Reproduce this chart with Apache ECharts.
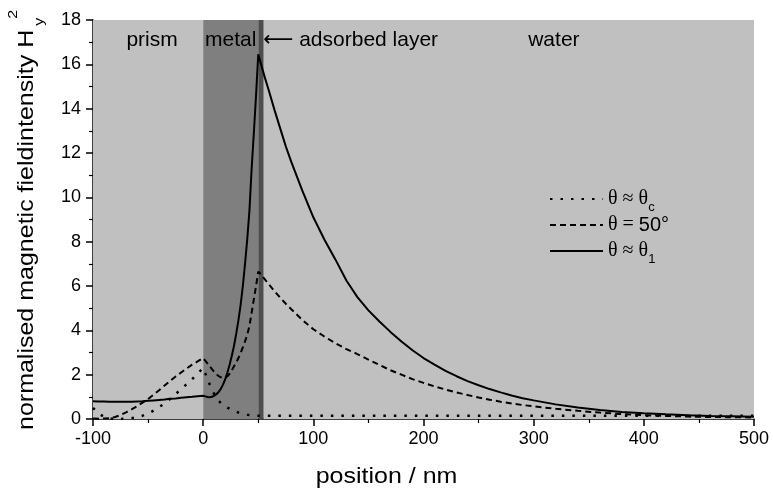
<!DOCTYPE html>
<html><head><meta charset="utf-8">
<script src="https://cdn.jsdelivr.net/npm/echarts@6/dist/echarts.min.js"></script>
<style>html,body{margin:0;padding:0;background:#fff}#c{width:773px;height:488px}</style>
</head><body><div id="c"></div>
<script>
// position in nm
const positions = [
  -100,-95,-90,-85,-80,-75,-70,-65,-60,-55,-50,-45,-40,-35,-30,-25,-20,-15,-10,-5,0,
  2,4,6,8,10,12,14,16,18,20,22,24,26,28,30,32,34,36,38,40,42,44,46,48,50,
  52,54,56,
  60,65,70,75,80,
  90,100,110,120,130,140,150,160,170,180,190,200,210,220,230,240,250,260,270,280,290,300,
  320,340,360,380,400,420,440,460,480,500];
// theta ~ theta_c (dotted)
const hThetaC = [
  0.5,0.25,0.1,0.02,0.0,0.0,0.02,0.04,0.08,0.15,0.25,0.38,0.54,0.7,0.9,1.12,1.35,1.57,1.8,2.05,2.3,
  2.05,1.8,1.55,1.33,1.13,0.96,0.83,0.72,0.64,0.57,0.51,0.46,0.41,0.37,0.33,0.29,0.26,0.23,0.21,0.19,0.18,0.17,0.16,0.155,0.15,
  0.15,0.15,0.15,
  0.15,0.15,0.15,0.15,0.15,
  0.15,0.15,0.15,0.15,0.15,0.15,0.15,0.15,0.15,0.15,0.15,0.15,0.15,0.15,0.15,0.15,0.15,0.15,0.15,0.15,0.15,0.15,
  0.15,0.15,0.15,0.15,0.15,0.15,0.15,0.15,0.15,0.15];
// theta = 50 deg (dashed)
const h50 = [
  0.02,0.01,0.02,0.04,0.09,0.18,0.3,0.43,0.58,0.74,0.9,1.1,1.3,1.51,1.72,1.92,2.1,2.28,2.45,2.6,2.75,
  2.62,2.5,2.38,2.25,2.13,2.02,1.94,1.88,1.85,1.86,1.93,2.04,2.2,2.38,2.55,2.75,2.98,3.23,3.5,3.8,4.2,4.8,5.4,6.0,6.65,
  6.55,6.42,6.3,
  6.05,5.75,5.47,5.2,4.95,
  4.47,4.05,3.72,3.42,3.15,2.93,2.68,2.44,2.2,2.0,1.8,1.63,1.47,1.33,1.2,1.08,0.97,0.87,0.78,0.7,0.63,0.57,
  0.46,0.37,0.29,0.22,0.17,0.14,0.11,0.09,0.08,0.07];
// theta ~ theta_1 (solid)
const hTheta1 = [
  0.80,0.79,0.79,0.78,0.78,0.78,0.78,0.78,0.79,0.80,0.82,0.84,0.86,0.88,0.91,0.93,0.96,0.98,1.00,1.03,1.05,
  1.02,0.99,0.98,1.00,1.05,1.12,1.22,1.36,1.55,1.80,2.10,2.45,2.85,3.30,3.85,4.45,5.15,6.00,7.0,8.1,9.4,11.3,12.9,14.6,16.45,
  16.1,15.75,15.4,
  14.75,13.9,13.1,12.3,11.6,
  10.3,9.1,8.1,7.2,6.25,5.5,4.9,4.4,3.93,3.5,3.1,2.75,2.45,2.17,1.93,1.71,1.52,1.35,1.2,1.06,0.94,0.84,
  0.66,0.52,0.41,0.32,0.26,0.21,0.17,0.14,0.12,0.1];
// layer boundaries (nm) and labels
const layerNames = ['prism','metal','\u27f5 adsorbed layer','water'];
const layerBounds = [-100,0,50,55,500];
const layerColors = ['#c0c0c0','#7f7f7f','#4e4e4e','#c0c0c0'];
const seriesNames = ['\u03b8 \u2248 \u03b8c','\u03b8 = 50\u00b0','\u03b8 \u2248 \u03b81'];
const yTitle = 'normalised magnetic fieldintensity H';
const xTitle = 'position / nm';

const SANS = '"Liberation Sans", Arial, "DejaVu Sans", sans-serif';
const SERIF = '"Liberation Serif", "DejaVu Serif", serif';
const chart = echarts.init(document.getElementById('c'), null, {renderer:'canvas'});
const pair = arr => positions.map((x,i)=>[x, arr[i]]);
const labelPos = ['insideTop','insideTop','insideTopLeft','insideTop'];
const labelOff = [[4,0],[0,0],[-5,0],[45,0]];
const areaData = layerNames.map((n,i)=>[
  {xAxis: layerBounds[i], name: n, itemStyle:{color: layerColors[i]},
   label:{show:true, position: labelPos[i], offset: labelOff[i], formatter: n, color:'#000', fontSize:21, fontFamily:SANS, distance:10}},
  {xAxis: layerBounds[i+1]}
]);
const rich = {
  g:{fontFamily:SERIF, fontSize:20, color:'#000', lineHeight:30, verticalAlign:'middle'},
  n:{fontFamily:SANS, fontSize:20, color:'#000', lineHeight:30, verticalAlign:'middle'},
  s:{fontFamily:SANS, fontSize:13, color:'#000', lineHeight:13, verticalAlign:'bottom'}
};
const fmt = {};
fmt[seriesNames[0]] = '{g|\u03b8 \u2248 \u03b8}{s|c}';
fmt[seriesNames[1]] = '{g|\u03b8 = }{n|50\u00b0}';
fmt[seriesNames[2]] = '{g|\u03b8 \u2248 \u03b8}{s|1}';

const axisCommon = {
  axisLine:{show:true, onZero:false, lineStyle:{color:'#000', width:1.5}},
  axisTick:{show:true, inside:false, length:7, lineStyle:{color:'#000', width:1.5}},
  minorTick:{show:true, splitNumber:2, length:4, lineStyle:{color:'#000', width:1.2}},
  splitLine:{show:false},
  axisLabel:{color:'#000', fontSize:18, fontFamily:SANS}
};

const ctx = document.createElement('canvas').getContext('2d');
ctx.font = '25px ' + SANS;
const W = ctx.measureText(yTitle).width;

chart.setOption({
  animation:false,
  backgroundColor:'#fff',
  grid:{left:93, right:19, top:20, bottom:69, containLabel:false},
  xAxis: Object.assign({}, axisCommon, {
    type:'value', min:-100, max:500, interval:100,
    axisLabel: Object.assign({}, axisCommon.axisLabel, {margin:11})
  }),
  yAxis: Object.assign({}, axisCommon, {
    type:'value', min:0, max:18, interval:2,
    axisLabel: Object.assign({}, axisCommon.axisLabel, {margin:12})
  }),
  legend:{
    data: seriesNames, orient:'vertical', left:549, top:184, padding:0,
    itemWidth:53, itemHeight:14, itemGap:-4,
    itemStyle:{opacity:0},
    formatter: name => fmt[name],
    textStyle:{rich: rich, lineHeight:30}
  },
  graphic:[{
    type:'group', x:27, y:430, rotation:Math.PI/2, scaleY:0.85,
    children:[
      {type:'text', x:0, y:0, style:{text:yTitle, font:'25px '+SANS, fill:'#000', textAlign:'left', align:'left', textVerticalAlign:'middle', verticalAlign:'middle'}},
      {type:'text', x:W+4, y:14, style:{text:'y', font:'16px '+SANS, fill:'#000', textAlign:'left', align:'left', textVerticalAlign:'middle', verticalAlign:'middle'}},
      {type:'text', x:W+11, y:-16, style:{text:'2', font:'16px '+SANS, fill:'#000', textAlign:'left', align:'left', textVerticalAlign:'middle', verticalAlign:'middle'}}
    ]
  },{
    type:'group', x:386.5, y:477, scaleY:0.88,
    children:[
      {type:'text', x:0, y:0, style:{text:xTitle, font:'25px '+SANS, fill:'#000', textAlign:'center', align:'center', textVerticalAlign:'middle', verticalAlign:'middle'}}
    ]
  }],
  series:[
    {name:'layers', type:'line', data:[], z:0, silent:true,
     markArea:{silent:true, data: areaData}},
    {name:seriesNames[0], type:'line', data:pair(hThetaC), symbol:'none', showSymbol:false, z:3,
     lineStyle:{color:'#000', width:2.5, type:[2.5,8]}, itemStyle:{color:'#000'}},
    {name:seriesNames[1], type:'line', data:pair(h50), symbol:'none', showSymbol:false, z:3,
     lineStyle:{color:'#000', width:2, type:[6,4]}, itemStyle:{color:'#000'}},
    {name:seriesNames[2], type:'line', data:pair(hTheta1), symbol:'none', showSymbol:false, z:3,
     lineStyle:{color:'#000', width:2}, itemStyle:{color:'#000'}}
  ]
});
</script>
</body></html>
